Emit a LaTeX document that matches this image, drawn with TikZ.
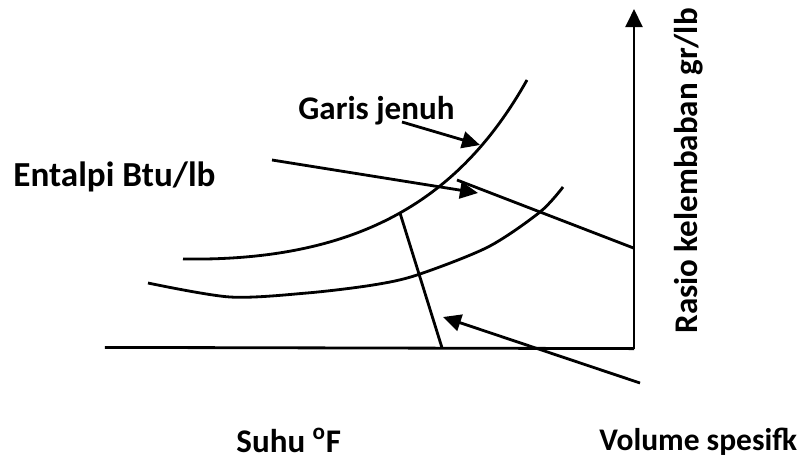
\documentclass[tikz,border=0pt]{standalone}
\usepackage{fontspec}
\setmainfont{Carlito}
\usetikzlibrary{arrows.meta}

\begin{document}
\begin{tikzpicture}[line width=2pt,>={Triangle[length=0.45cm,width=0.42cm]},
    lbl/.style={font=\bfseries\fontsize{23.5}{28}\selectfont,inner sep=0pt},
    sml/.style={font=\bfseries\fontsize{22.4}{27}\selectfont,inner sep=0pt}]
    \useasboundingbox (0,0) rectangle (19.95,11.475);
    % axes
    \coordinate (xl) at (2.62,2.79);
    \coordinate (O) at (15.85,2.76);
    \coordinate (ytop) at (15.85,11.25);
    \draw (xl) -- (O);
    \draw[->] (O) -- (ytop);
    % curves
    \draw (4.575,5.0) .. controls (9.25,4.925) and (11.625,6.725) .. (13.175,9.475);
    \draw plot[smooth] coordinates {(3.7,4.4) (5.75,4.05) (7.675,4.15) (9.325,4.35) (10.425,4.6) (12.2,5.3) (13.5,6.175) (14.075,6.8)};
    % enthalpy and volume lines
    \coordinate (hs) at (11.425,6.975);
    \coordinate (he) at (15.85,5.27);
    \draw (hs) -- (he);
    \coordinate (vs) at (10.0,6.15);
    \coordinate (ve) at (11.05,2.78);
    \draw (vs) -- (ve);
    % labels
    \node[lbl,anchor=base west] (jenuh) at (7.425,8.5) {Garis jenuh};
    \node[lbl,anchor=base west,font=\bfseries\fontsize{25}{30}\selectfont] (entalpi) at (0.3,6.825) {Entalpi Btu/lb};
    \node[lbl,anchor=base west,rotate=90] (rasio) at (17.425,3.1) {Rasio kelembaban gr/lb};
    \node[lbl,anchor=base west] (suhu) at (5.875,0.175) {Suhu \textsuperscript{o}F};
    \node[sml,anchor=base west] (volume) at (14.95,0.225) {Volume spesifk};
    % arrows
    \coordinate (j1) at (10.05,8.425);
    \coordinate (j2) at (12.0,7.85);
    \draw[->] (j1) -- (j2);
    \coordinate (e1) at (6.8,7.475);
    \coordinate (e2) at (11.95,6.65);
    \draw[->] (e1) -- (e2);
    \coordinate (v1) at (16.0,1.9);
    \coordinate (v2) at (11.075,3.55);
    \draw[->] (v1) -- (v2);
\end{tikzpicture}
\end{document}
